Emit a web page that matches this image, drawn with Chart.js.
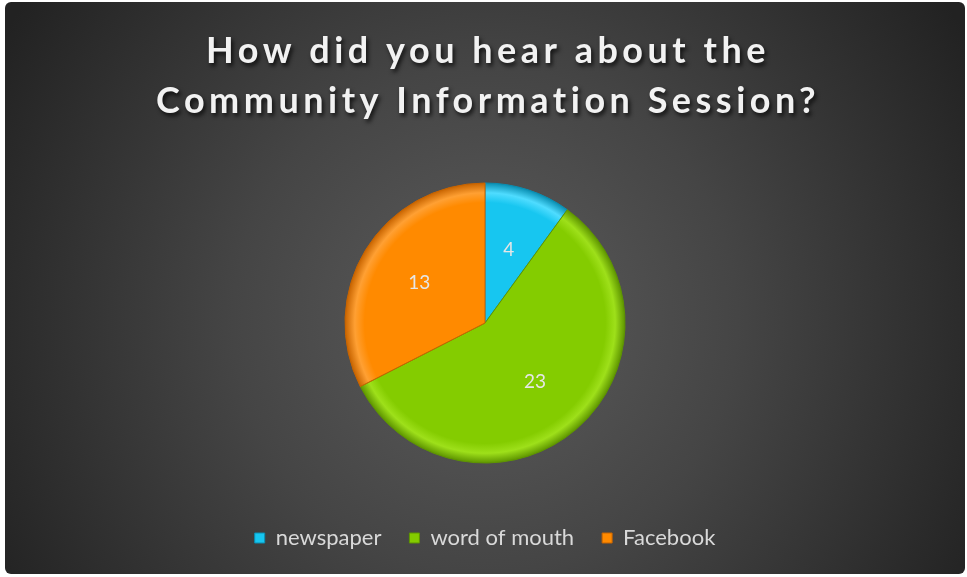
<!DOCTYPE html>
<html>
<head>
<meta charset="utf-8">
<script src="https://cdn.jsdelivr.net/npm/chart.js@4.4.1/dist/chart.umd.min.js"></script>
<style>
  html, body { margin: 0; padding: 0; background: #fff; }
  #wrap { width: 967px; height: 577px; }
</style>
</head>
<body>
<div id="wrap"><canvas id="source"></canvas></div>
<script>
const titleLines = ['How did you hear about the', 'Community Information Session?']
const labels = ['newspaper', 'word of mouth', 'Facebook']
const counts = [4, 23, 13]

const fillColor = ['#17c6f0', '#84cc00', '#ff8a00']
const edgeColor = ['#0a8fb3', '#5f9600', '#c86400']
const lightColor = ['#4fdcff', '#9ee01a', '#ffa033']

// dark panel with a soft spot light in the middle
const panelBg = {
    id: 'panelBg',
    beforeDraw(chart) {
        const ctx = chart.ctx
        const x = 5, y = 2, w = 960, h = 572, r = 6
        const g = ctx.createRadialGradient(485, 320, 0, 485, 320, 560)
        g.addColorStop(0, '#5c5c5c')
        g.addColorStop(0.45, '#454545')
        g.addColorStop(1, '#222222')
        ctx.save()
        ctx.beginPath()
        ctx.roundRect(x, y, w, h, r)
        ctx.fillStyle = g
        ctx.fill()
        ctx.restore()
    }
}

// two line heading with wide spacing and drop shadow
const heading = {
    id: 'heading',
    afterDraw(chart) {
        const ctx = chart.ctx
        ctx.save()
        ctx.font = 'bold 36px Lato'
        ctx.letterSpacing = '4.5px'
        ctx.textAlign = 'center'
        ctx.textBaseline = 'alphabetic'
        ctx.fillStyle = '#f2f2f2'
        ctx.shadowColor = 'rgba(0,0,0,0.75)'
        ctx.shadowBlur = 4
        ctx.shadowOffsetX = 2
        ctx.shadowOffsetY = 3
        titleLines.forEach((t, i) => ctx.fillText(t, 488, 63 + i * 50))
        ctx.restore()
    }
}

// value written inside each slice
const sliceValues = {
    id: 'sliceValues',
    afterDatasetsDraw(chart) {
        const ctx = chart.ctx
        const meta = chart.getDatasetMeta(0)
        ctx.save()
        ctx.font = '19px Lato'
        ctx.fillStyle = '#e6e6e6'
        ctx.textAlign = 'center'
        ctx.textBaseline = 'middle'
        meta.data.forEach((arc, i) => {
            const p = arc.getProps(['x', 'y', 'startAngle', 'endAngle', 'outerRadius'], true)
            const a = (p.startAngle + p.endAngle) / 2
            const d = p.outerRadius * 0.55
            ctx.fillText(String(counts[i]), p.x + Math.cos(a) * d, p.y + Math.sin(a) * d)
        })
        ctx.restore()
    }
}

function sliceFill(context) {
    const i = context.dataIndex
    const chart = context.chart
    const area = chart.chartArea
    if (!area) return fillColor[i]
    const cx = (area.left + area.right) / 2
    const cy = (area.top + area.bottom) / 2
    const g = chart.ctx.createRadialGradient(cx, cy, 0, cx, cy, 140)
    g.addColorStop(0, fillColor[i])
    g.addColorStop(0.86, fillColor[i])
    g.addColorStop(0.93, lightColor[i])
    g.addColorStop(1, edgeColor[i])
    return g
}

const chart_src = document.getElementById('source')
new Chart(chart_src, {
    type: 'pie',
    data: {
        labels: labels,
        datasets: [{
            data: counts,
            backgroundColor: sliceFill,
            borderColor: edgeColor,
            borderWidth: 1,
            radius: 140
        }]
    },
    options: {
        responsive: true,
        maintainAspectRatio: false,
        animation: false,
        layout: {
            padding: { top: 147, left: 5, right: 2, bottom: 18 }
        },
        plugins: {
            tooltip: { enabled: false },
            legend: {
                position: 'bottom',
                labels: {
                    color: '#d9d9d9',
                    font: { family: 'Lato', size: 22 },
                    boxWidth: 10,
                    boxHeight: 10,
                    padding: 28,
                    generateLabels(chart) {
                        return labels.map((l, i) => ({
                            text: l,
                            fillStyle: fillColor[i],
                            strokeStyle: edgeColor[i],
                            lineWidth: 1,
                            fontColor: '#d9d9d9',
                            index: i
                        }))
                    }
                }
            }
        }
    },
    plugins: [panelBg, heading, sliceValues]
})
</script>
</body>
</html>
